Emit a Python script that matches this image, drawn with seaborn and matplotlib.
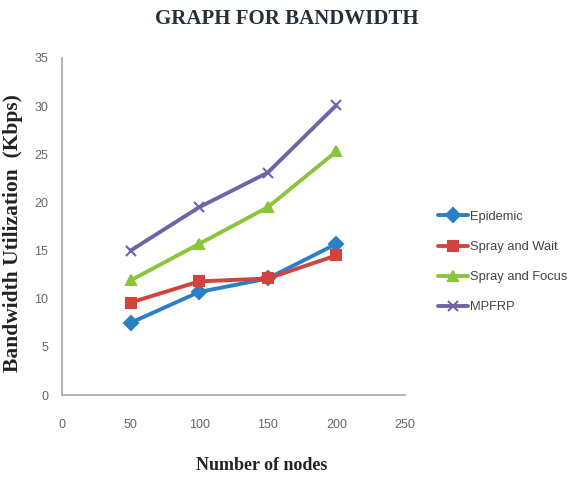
import matplotlib
matplotlib.use("Agg")
import matplotlib.pyplot as plt
from matplotlib.lines import Line2D
import seaborn as sns
import pandas as pd

nodes = [50, 100, 150, 200]
epidemic = [7.5, 10.7, 12.1, 15.7]
spray_wait = [9.6, 11.8, 12.1, 14.5]
spray_focus = [11.9, 15.7, 19.5, 25.3]
mpfrp = [15.0, 19.5, 23.1, 30.1]

series_names = ["Epidemic", "Spray and Wait", "Spray and Focus", "MPFRP"]
series_values = [epidemic, spray_wait, spray_focus, mpfrp]
colors = ["#2a80c6", "#d2433d", "#8cc43c", "#7262a8"]
markers = ["D", "s", "^", "x"]

sns.set_style("white")
fig = plt.figure(figsize=(5.74, 4.78), dpi=100)
ax = fig.add_axes([62 / 574, 83 / 478, 343 / 574, 337 / 478])

# One lineplot call per protocol (filled and line-art markers are mixed)
for name, vals, c, m in zip(series_names, series_values, colors, markers):
    df = pd.DataFrame({"nodes": nodes, "bandwidth": vals})
    sns.lineplot(data=df, x="nodes", y="bandwidth", color=c, marker=m,
                 linewidth=2.8, markersize=7.5, markeredgewidth=1.5,
                 markeredgecolor=c, ax=ax, label=name, legend=False)

ax.set_xlim(0, 250)
ax.set_ylim(0, 35)
ax.set_xticks(range(0, 251, 50))
ax.set_yticks(range(0, 36, 5))
tick_font = {"family": "Liberation Sans", "size": 9, "color": "#666666"}
ax.set_xticklabels([str(v) for v in range(0, 251, 50)], **tick_font)
ax.set_yticklabels([str(v) for v in range(0, 36, 5)], **tick_font)
ax.tick_params(axis="x", length=0, pad=17)
ax.tick_params(axis="y", length=0, pad=10)

for side in ["top", "right"]:
    ax.spines[side].set_visible(False)
for side in ["left", "bottom"]:
    ax.spines[side].set_color("#a6a6b0")
    ax.spines[side].set_linewidth(1.2)

ax.set_xlabel("")
ax.set_ylabel("")
label_font = {"family": "Liberation Serif", "weight": "bold", "color": "#222222"}
fig.text(262 / 574, 1 - 465 / 478, "Number of nodes", ha="center", va="center",
         size=13, **label_font)
fig.text(13 / 574, 1 - 233 / 478, "Bandwidth Utilization  (Kbps)", ha="center",
         va="center", rotation=90, size=15.5, **label_font)

fig.text(287 / 574, 1 - 19 / 478, "GRAPH FOR BANDWIDTH", ha="center", va="center",
         family="Liberation Serif", weight="bold", size=15, color="#25303a")

handles = [Line2D([], [], color=c, marker=m, linewidth=2.8, markersize=7,
                  markeredgecolor=c, markeredgewidth=1.5)
           for c, m in zip(colors, markers)]
fig.legend(handles, series_names, loc="upper left", bbox_to_anchor=(434 / 574, 1 - 207 / 478),
           frameon=False, prop={"family": "Liberation Sans", "size": 9.3},
           handlelength=2.3, handletextpad=0.15, labelspacing=1.4, labelcolor="#444444",
           borderaxespad=0, borderpad=0.3)

fig.savefig("out.png", dpi=100)
